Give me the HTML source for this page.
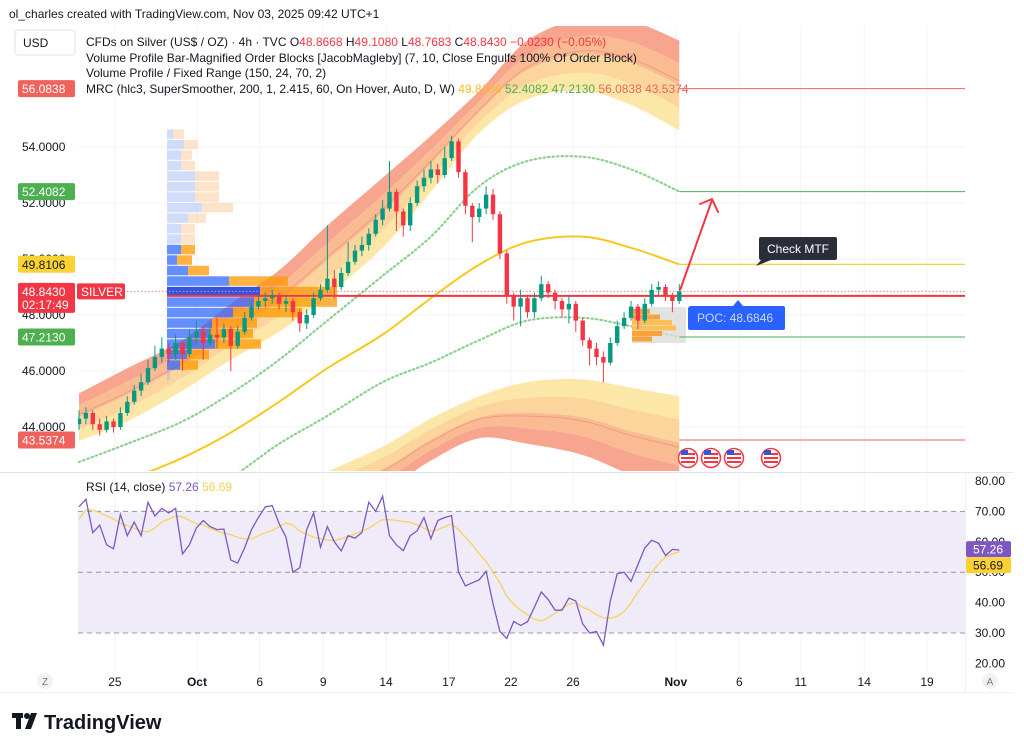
<!DOCTYPE html>
<html><head><meta charset="utf-8"><style>
html,body{margin:0;padding:0;background:#fff;}
svg{display:block;font-family:"Liberation Sans",sans-serif;}
</style></head><body>
<svg id="chart" width="1024" height="751" viewBox="0 0 1024 751" xmlns="http://www.w3.org/2000/svg">
<rect x="0" y="0" width="1024" height="751" fill="#ffffff"/>
<defs>
<clipPath id="mainClip"><rect x="78" y="26" width="887" height="445"/></clipPath>
<clipPath id="rsiClip"><rect x="78" y="474" width="887" height="198"/></clipPath>
</defs>
<g id="grid"></g>
<g id="bands" clip-path="url(#mainClip)"></g>
<g id="vp"></g>
<g id="lines" clip-path="url(#mainClip)"></g>
<g id="candles" clip-path="url(#mainClip)"></g>
<g id="rsi"></g>
<g id="axes"></g>
<g id="overlay"></g>

<text x="9" y="18" font-size="12" fill="#131722">ol_charles created with TradingView.com, Nov 03, 2025 09:42 UTC+1</text>
<rect x="15" y="30" width="60" height="25" rx="3" fill="#fff" stroke="#e0e3eb"/>
<text x="23" y="47" font-size="12" fill="#131722">USD</text>
<g font-size="12" fill="#131722">
<text x="86" y="46">CFDs on Silver (US$ / OZ) · 4h · TVC  O<tspan fill="#f23645">48.8668</tspan>  H<tspan fill="#f23645">49.1080</tspan>  L<tspan fill="#f23645">48.7683</tspan>  C<tspan fill="#f23645">48.8430  −0.0230 (−0.05%)</tspan></text>
<text x="86" y="62">Volume Profile Bar-Magnified Order Blocks [JacobMagleby] (7, 10, Close Engulfs 100% Of Order Block)</text>
<text x="86" y="77">Volume Profile / Fixed Range (150, 24, 70, 2)</text>
<text x="86" y="93">MRC (hlc3, SuperSmoother, 200, 1, 2.415, 60, On Hover, Auto, D, W)  <tspan fill="#f7c21a">49.8106</tspan>  <tspan fill="#4caf50">52.4082</tspan>  <tspan fill="#4caf50">47.2130</tspan>  <tspan fill="#f0625c">56.0838</tspan>  <tspan fill="#f0625c">43.5374</tspan></text>
</g>
<text x="86" y="491" font-size="12" fill="#131722">RSI (14, close)  <tspan fill="#7e57c2">57.26</tspan>  <tspan fill="#f5d04a">56.69</tspan></text>

<g>
<rect x="12" y="713" width="11" height="5" fill="#131722"/>
<rect x="16" y="713" width="5" height="16" fill="#131722"/>
<circle cx="27" cy="716" r="3" fill="#131722"/>
<polygon points="31,713 37,713 31,729 25,729" fill="#131722"/>
<text x="44" y="729" font-size="20" font-weight="bold" fill="#131722">TradingView</text>
</g>
</svg>
<script>
// ---------- data ----------
const closes = [44.3,44.5,44.1,43.9,44.2,44.0,44.5,44.9,45.3,45.6,46.1,46.5,46.8,46.6,47.0,46.6,47.2,47.4,47.0,47.3,47.2,47.5,46.9,47.4,47.9,48.3,48.5,48.6,48.7,48.4,48.5,48.1,47.7,48.0,48.6,48.9,49.3,49.0,49.5,49.9,50.3,50.5,50.9,51.4,51.8,52.4,51.7,51.2,52.0,52.6,52.9,53.2,53.0,53.6,54.2,53.1,51.9,51.5,51.8,52.3,51.6,50.2,48.7,48.3,48.6,48.1,48.6,49.1,48.8,48.5,48.2,48.4,47.8,47.1,46.8,46.5,46.3,47.0,47.6,47.9,48.3,47.8,48.4,48.9,49.0,48.7,48.5,48.84];
const opens = [44.1,44.3,44.5,44.1,43.9,44.2,44.0,44.5,44.9,45.3,45.6,46.1,46.5,46.8,46.6,47.0,46.6,47.2,47.4,47.0,47.3,47.2,47.5,46.9,47.4,47.9,48.3,48.5,48.6,48.7,48.4,48.5,48.1,47.7,48.0,48.6,48.9,49.3,49.0,49.5,49.9,50.3,50.5,50.9,51.4,51.8,52.4,51.7,51.2,52.0,52.6,52.9,53.2,53.0,53.6,54.2,53.1,51.9,51.5,51.8,52.3,51.6,50.2,48.7,48.3,48.6,48.1,48.6,49.1,48.8,48.5,48.2,48.4,47.8,47.1,46.8,46.5,46.3,47.0,47.6,47.9,48.3,47.8,48.4,48.9,49.0,48.7,48.5];
const highs = [44.6,44.7,44.6,44.3,44.4,44.3,44.7,45.1,45.5,45.9,46.4,46.9,47.2,47.0,47.3,47.1,47.5,47.8,47.6,47.6,47.9,47.7,47.6,47.6,48.1,48.5,48.7,48.8,48.9,48.8,48.7,48.6,48.2,48.2,48.8,49.1,51.2,49.6,49.7,50.6,50.5,50.8,51.1,51.6,52.1,53.5,52.5,51.8,52.2,52.8,53.2,53.5,53.4,54.0,54.4,54.3,53.2,52.0,52.0,52.6,52.5,51.7,50.3,48.8,48.9,48.7,48.8,49.4,49.2,48.9,48.6,48.7,48.5,47.9,47.2,47.0,46.7,47.2,47.8,48.1,48.5,48.4,48.6,49.1,49.2,49.1,48.8,49.1];
const lows = [43.9,44.1,43.9,43.7,43.8,43.8,43.9,44.4,44.8,45.1,45.5,46.0,46.3,46.3,46.4,46.0,46.5,47.0,46.4,46.9,46.8,47.0,46.0,46.8,47.3,47.8,48.2,48.3,48.4,48.2,48.1,47.8,47.4,47.5,47.9,48.5,48.8,48.6,48.9,49.4,49.8,50.1,50.3,50.8,51.2,51.7,51.0,50.8,51.0,51.9,52.4,52.7,52.7,52.9,53.5,52.9,51.6,50.6,51.3,51.6,51.4,50.0,48.4,47.8,47.6,47.9,47.9,48.5,48.6,48.2,47.9,47.7,47.4,46.9,46.2,46.2,45.6,46.2,46.9,47.5,47.8,47.5,47.7,48.3,48.7,48.5,48.1,48.4];
const rsiValues = [71.5,74,63,65.5,59,57.7,69,62,66.5,62,73,68.5,71,69.5,71,56,59,64.5,67,65,64,64.2,54,53,58,64,68,71.5,71.9,66,61.5,50,51.5,64,69.5,58.2,65,60,57,62,61.2,63,73,70,75,62,59,57.1,62,63.6,68,61,67,68,68.6,50,45.5,46.5,47.5,50.3,39.7,30.5,28.2,33.8,32.5,33.7,38.5,43.5,41,37.5,37.5,41.5,40.5,33,30,30.5,26,40.5,49.5,50,47,52.5,58,60.5,59.5,55.5,57.5,57.26];
const rsiMA = [67.5,70.5,70.5,69.5,68.6,67.5,66,65.3,64.5,63.5,63.3,64.5,66.5,67.5,68.5,68.2,67,66,65.5,64.5,63.5,62.8,62.3,61.5,61,61,62,63,63.7,65,66.2,65.5,63.5,62.5,61.5,61,60.6,60.4,61,61.8,62.6,63.5,64.5,66,67.3,67.3,67,66.7,66.4,65.5,64.5,63.5,64,65,65.9,64,61.5,59,56,53.5,50,46.5,42,39.5,37.5,36,34.5,34,35,36.5,38,39.5,40,38.5,37.5,36,35,34.8,35.5,37,40,43.5,46.5,50,52.8,55,56,56.69];
// MRC band samples (bar index -> price)
const bandIdx = [0,7,15,22,29,36,44,51,58,65,73,80,87];
const mrcMean = [41.5,42.1,42.9,43.8,44.9,46.1,47.3,48.6,49.8,50.6,50.8,50.4,49.81];
const upperDotted = [42.75,43.4,44.2,45.2,46.4,47.8,49.4,50.8,52.6,53.5,53.65,53.2,52.41];
const lowerDotted = [40.3,40.8,41.4,42.2,43.4,44.4,45.6,46.3,47.1,47.8,47.9,47.6,47.21];
const upperInner = [43.5,44.2,45.3,46.4,47.4,48.7,50.4,52.4,54.5,55.7,56.0,55.5,54.6];
const upperOuter = [45.2,46.1,47.1,48.4,49.6,51.2,52.9,54.4,56.0,57.8,58.6,58.5,57.8];
const lowerInner = [39.0,39.6,40.2,40.8,41.5,42.4,43.3,44.3,45.1,45.6,45.7,45.4,45.1];
const lowerOuter = [37.8,38.1,38.7,39.2,40.2,41.0,41.7,42.8,43.6,43.4,43.0,42.3,41.8];
// Volume profile rows (24 rows, top -> bottom), up/down volume
const vpUp = [6,17,14,14,28,28,28,35,21,14,14,14,10,21,62,93,87,66,45,43,48,20,13,3];
const vpDown = [11,14,11,14,24,24,24,31,18,14,14,14,15,21,59,77,83,69,45,43,46,22,18,0];
const vpTop = 54.65, vpBottom = 45.65;
const levels = {mean:49.8106, upper:52.4082, lower:47.2130, top:56.0838, bottom:43.5374, last:48.8430, poc:48.6846};
const priceTicks = [44,46,48,50,52,54,56];
const priceTickLabels = ["44.0000","46.0000","48.0000","50.0000","52.0000","54.0000","56.0000"];
const timeTickIdx = [5.2,17.1,26.2,35.4,44.5,53.6,62.6,71.6,86.5,95.7,104.6,113.8,122.9];
const timeTickLabels = ["25","Oct","6","9","14","17","22","26","Nov","6","11","14","19"];
const rsiTicks = [20,30,40,50,60,70,80];

// ---------- scales ----------
const X0 = 79, STEP = 6.9;
function xS(i){ return X0 + i*STEP; }
function yP(p){ return 315 - (p-48)*28; }
function yR(v){ return 481 + (80-v)*3.04; }
const NS = "http://www.w3.org/2000/svg";
function mk(tag, attrs, parent){ const e=document.createElementNS(NS,tag); for(const k in attrs) e.setAttribute(k,attrs[k]); parent.appendChild(e); return e; }
function smooth(pts){
  let d = "M"+pts[0][0]+","+pts[0][1];
  for(let i=0;i<pts.length-1;i++){
    const p0=pts[Math.max(i-1,0)],p1=pts[i],p2=pts[i+1],p3=pts[Math.min(i+2,pts.length-1)];
    const c1x=p1[0]+(p2[0]-p0[0])/6,c1y=p1[1]+(p2[1]-p0[1])/6,c2x=p2[0]-(p3[0]-p1[0])/6,c2y=p2[1]-(p3[1]-p1[1])/6;
    d+=" C"+c1x+","+c1y+" "+c2x+","+c2y+" "+p2[0]+","+p2[1];
  }
  return d;
}
function curve(arr){ return bandIdx.map((b,k)=>[xS(b), yP(arr[k])]); }

const grid = document.getElementById('grid');
const bands = document.getElementById('bands');
const vp = document.getElementById('vp');
const lines = document.getElementById('lines');
const cg = document.getElementById('candles');
const rsiG = document.getElementById('rsi');
const axes = document.getElementById('axes');
const ov = document.getElementById('overlay');

priceTicks.forEach(p=>{
  const l = mk('line',{x1:78,x2:965,y1:yP(p),y2:yP(p),stroke:'#f2f3f6','stroke-width':1},grid);
  
  
});
timeTickIdx.forEach(t=>{
  const l = mk('line',{x1:xS(t),x2:xS(t),y1:26,y2:672,stroke:'#f2f3f6','stroke-width':1},grid);
  
  
});
mk('line',{x1:0,x2:1013,y1:472.5,y2:472.5,stroke:'#e0e3eb'},grid);
mk('line',{x1:965.5,x2:965.5,y1:472,y2:692,stroke:'#eef0f3'},grid);

const layerCols = ['#fde7a8','#fcd59c','#fabb93','#f7a58f'];
function lerpArr(a,b,t){ return a.map((v,k)=>v+(b[k]-v)*t); }
function bandPath(a,b){
  const inner = curve(a), outer = curve(b);
  return smooth(inner)+" L"+outer[outer.length-1].join(",")+" "+smooth(outer.slice().reverse()).replace(/^M/,"L")+" Z";
}
for(let k=0;k<4;k++){
  const p = mk('path',{d:bandPath(lerpArr(upperInner,upperOuter,k/4),lerpArr(upperInner,upperOuter,(k+1)/4)),fill:layerCols[k]},bands);
  
  
}
for(let k=0;k<4;k++){
  const p = mk('path',{d:bandPath(lerpArr(lowerInner,lowerOuter,k/4),lerpArr(lowerInner,lowerOuter,(k+1)/4)),fill:layerCols[k]},bands);
  
  
}
const ucl = mk('path',{d:smooth(curve(lerpArr(upperInner,upperOuter,0.55))),fill:'none',stroke:'#f08a7a','stroke-width':0.8,opacity:0.8},bands);


const lcl = mk('path',{d:smooth(curve(lerpArr(lowerInner,lowerOuter,0.55))),fill:'none',stroke:'#f08a7a','stroke-width':0.8,opacity:0.8},bands);


const meanL = mk('path',{d:smooth(curve(mrcMean)),fill:'none',stroke:'#f7c81f','stroke-width':2},bands);


const udL = mk('path',{d:smooth(curve(upperDotted)),fill:'none',stroke:'#8fcf8f','stroke-width':2.2,'stroke-dasharray':'1.5 3','stroke-linecap':'round'},bands);


const ldL = mk('path',{d:smooth(curve(lowerDotted)),fill:'none',stroke:'#8fcf8f','stroke-width':2.2,'stroke-dasharray':'1.5 3','stroke-linecap':'round'},bands);



const rowH = (yP(vpBottom)-yP(vpTop))/vpUp.length;
vpUp.forEach((u,i)=>{
  const y = yP(vpTop)+i*rowH;
  const inVA = i>=11 && i<=22;
  const b = mk('rect',{x:167,y:y+0.5,width:u,height:rowH-1,fill: i===15?'#3355e0':(inVA?'rgba(41,98,255,0.72)':'rgba(160,185,245,0.5)')},vp);
  
  
  const o = mk('rect',{x:167+u,y:y+0.5,width:vpDown[i],height:rowH-1,fill: inVA?'rgba(255,152,0,0.75)':'rgba(250,200,150,0.5)'},vp);
  
  
});
mk('rect',{x:632,y:307,width:54,height:36,fill:'#dcdcdc',opacity:0.8},vp);
[[0,18],[1,28],[2,40],[3,44],[4,30],[5,20]].forEach(r=>{
  const s = mk('rect',{x:632,y:309+r[0]*5.5,width:r[1],height:5,fill:(r[0]<2||r[0]>3)?'#f9a23a':'#fcc05a'},vp);
  
  
});

const lastX = xS(closes.length-1);
function hline(p,x1,col,w,dash,name){
  const l = mk('line',{x1:x1,x2:965,y1:yP(p),y2:yP(p),stroke:col,'stroke-width':w},lines);
  if(dash) l.setAttribute('stroke-dasharray',dash);
  
  
}
hline(levels.last,78,'#d98c95',1,'1.5 2','last-price-line');
hline(levels.top,lastX,'#f0625c',1,null,'mrc-top-line');
hline(levels.upper,lastX,'#4caf50',1,null,'mrc-upper-line');
hline(levels.mean,lastX,'#f7c81f',1.2,null,'mrc-mean-ext');
hline(levels.lower,lastX,'#4caf50',1,null,'mrc-lower-line');
hline(levels.bottom,lastX,'#f0625c',1,null,'mrc-bottom-line');
hline(levels.poc,167,'#f23645',2,null,'poc-line');

closes.forEach((c,i)=>{
  const o = opens[i], up = c>=o, col = up?'#089981':'#f23645';
  const x = xS(i);
  const w = mk('line',{x1:x,x2:x,y1:yP(highs[i]),y2:yP(lows[i]),stroke:col,'stroke-width':1},cg);
  
  
  const top = yP(Math.max(o,c)), h = Math.max(1,Math.abs(yP(o)-yP(c)));
  const b = mk('rect',{x:x-2.2,y:top,width:4.4,height:h,fill:col},cg);
  
  
});

const band = mk('rect',{x:78,y:yR(70),width:887,height:yR(30)-yR(70),fill:'#efebf9'},rsiG);


[70,50,30].forEach(v=>{
  const l = mk('line',{x1:78,x2:965,y1:yR(v),y2:yR(v),stroke:'#9598a1','stroke-width':1,'stroke-dasharray':'5 4'},rsiG);
  
  
});
const maPts = rsiMA.map((v,i)=>xS(i)+","+yR(v)).join(" ");
const maL = mk('polyline',{points:maPts,fill:'none',stroke:'#f7d45a','stroke-width':1.3},rsiG);


const rPts = rsiValues.map((v,i)=>xS(i)+","+yR(v)).join(" ");
const rL = mk('polyline',{points:rPts,fill:'none',stroke:'#7e57c2','stroke-width':1.3},rsiG);



priceTicks.forEach((p,i)=>{
  const t = mk('text',{x:22,y:yP(p)+4,'font-size':12,fill:'#131722'},axes);
  t.textContent = priceTickLabels[i];
  
  
});
function plabel(p,bg,fg,txt,name){
  const r = mk('rect',{x:18,y:yP(p)-8.5,width:57,height:17,rx:2,fill:bg},axes);
  
  
  const t = mk('text',{x:22,y:yP(p)+4.5,'font-size':12,fill:fg},axes);
  t.textContent = txt;
  
  
}
plabel(levels.top,'#f0625c','#fff','56.0838','mrc-top-label');
plabel(levels.upper,'#4caf50','#fff','52.4082','mrc-upper-label');
plabel(levels.mean,'#fbd232','#131722','49.8106','mrc-mean-label');
plabel(levels.lower,'#4caf50','#fff','47.2130','mrc-lower-label');
plabel(levels.bottom,'#f0625c','#fff','43.5374','mrc-bottom-label');
const lr = mk('rect',{x:18,y:yP(levels.last)-8.5,width:57,height:30,rx:2,fill:'#f23645'},axes);


const lt = mk('text',{x:22,y:yP(levels.last)+4.5,'font-size':12,fill:'#fff'},axes);
lt.textContent = '48.8430';


const ct = mk('text',{x:22,y:yP(levels.last)+17.5,'font-size':12,fill:'#fff'},axes);
ct.textContent = '02:17:49';


const sr = mk('rect',{x:77,y:yP(levels.last)-8,width:48,height:16,rx:2,fill:'#f23645'},axes);


const st = mk('text',{x:81,y:yP(levels.last)+4.5,'font-size':12,fill:'#fff'},axes);
st.textContent = 'SILVER';



rsiTicks.forEach(v=>{
  const t = mk('text',{x:975,y:yR(v)+4,'font-size':12,fill:'#131722'},axes);
  t.textContent = v.toFixed(2);
  
  
});
const rLast = rsiValues[rsiValues.length-1];
const rb1 = mk('rect',{x:966,y:yR(rLast)-9,width:45,height:16,rx:2,fill:'#7e57c2'},axes);


const rt1 = mk('text',{x:973,y:yR(rLast)+3.5,'font-size':12,fill:'#fff'},axes);
rt1.textContent = '57.26';


const rb2 = mk('rect',{x:966,y:yR(rLast)+7,width:45,height:16,rx:2,fill:'#fbd232'},axes);


const rt2 = mk('text',{x:973,y:yR(rLast)+19.5,'font-size':12,fill:'#131722'},axes);
rt2.textContent = '56.69';



timeTickIdx.forEach((t,i)=>{
  const lab = timeTickLabels[i];
  const tx = mk('text',{x:xS(t),y:686,'font-size':12,fill:'#131722','text-anchor':'middle','font-weight':(lab==='Oct'||lab==='Nov')?'bold':'normal'},axes);
  tx.textContent = lab;
  
  
});
mk('line',{x1:0,x2:1013,y1:692.5,y2:692.5,stroke:'#eef0f3'},axes);
const zc = mk('circle',{cx:45,cy:681,r:8,fill:'#f0f1f3'},axes);


const zt = mk('text',{x:45,y:685,'font-size':10,fill:'#787b86','text-anchor':'middle'},axes);
zt.textContent = 'Z';
const ac = mk('circle',{cx:990,cy:681,r:8,fill:'#f0f1f3'},axes);


const at = mk('text',{x:990,y:685,'font-size':10,fill:'#787b86','text-anchor':'middle'},axes);
at.textContent = 'A';

const lastY = yP(closes[closes.length-1]);
const arrow = mk('path',{d:'M'+(lastX+1)+','+(lastY-2)+' L712,200 M700,204 L712,199 L718,212',fill:'none',stroke:'#f23645','stroke-width':2,'stroke-linecap':'round','stroke-linejoin':'round'},ov);


const cm = mk('path',{d:'M761,237 h74 a2,2 0 0 1 2,2 v19 a2,2 0 0 1 -2,2 h-64 l-15,6 l5,-6 a2,2 0 0 1 -2,-2 v-19 a2,2 0 0 1 2,-2 z',fill:'#2a2e39'},ov);


const cmt = mk('text',{x:767,y:253,'font-size':12,fill:'#fff'},ov);
cmt.textContent = 'Check MTF';


const poc = mk('path',{d:'M690,306 h43 l5,-6 l5,6 h40 a2,2 0 0 1 2,2 v20 a2,2 0 0 1 -2,2 h-93 a2,2 0 0 1 -2,-2 v-20 z',fill:'#2962ff'},ov);


const pt = mk('text',{x:697,y:322,'font-size':12,fill:'#c9d6ff'},ov);
pt.textContent = 'POC: 48.6846';


[688,711,734,771].forEach(fx=>{
  const g = mk('g',{},ov);
  
  
  mk('circle',{cx:fx,cy:458,r:9.5,fill:'#fff',stroke:'#f23645','stroke-width':1.5},g);
  for(let s=0;s<3;s++) mk('rect',{x:fx-7,y:453+s*4,width:14,height:2,fill:'#f23645'},g);
  mk('rect',{x:fx-7,y:450,width:7,height:5,fill:'#3557c9'},g);
});
</script>
</body></html>
